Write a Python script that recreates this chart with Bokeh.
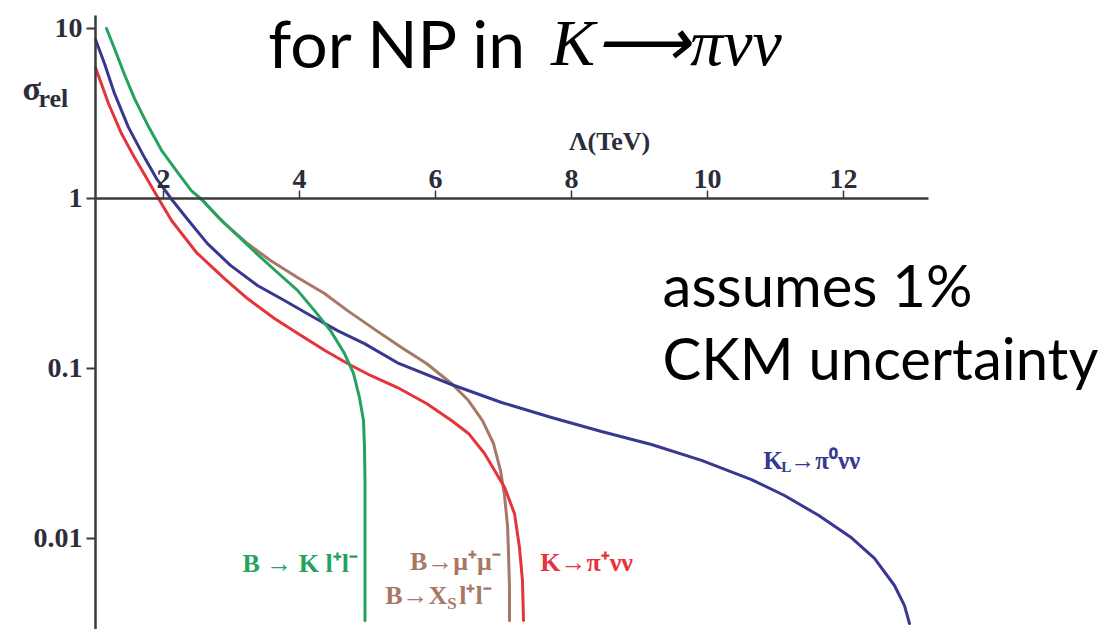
from bokeh.plotting import figure
from bokeh.models import Range1d, LinearAxis, LogAxis, FixedTicker, Label
from bokeh.embed import file_html
from bokeh.resources import INLINE

# ---------------- data ----------------
# Lambda (TeV) vs sigma_rel
red_x = [1.0, 1.191, 1.382, 1.574, 1.926, 2.118, 2.485, 2.897, 3.235, 3.632, 3.971, 4.368,
         4.706, 5.044, 5.441, 5.868, 6.235, 6.485, 6.721, 7.015, 7.162, 7.235, 7.279, 7.294]
red_y = [5.90, 3.62, 2.41, 1.74, 1.0, 0.742, 0.481, 0.338, 0.258, 0.197, 0.161, 0.128,
         0.107, 0.0910, 0.0773, 0.0622, 0.0494, 0.0415, 0.0316, 0.0200, 0.0140, 0.00885,
         0.00566, 0.00329]

blue_x = [1.0, 1.132, 1.279, 1.485, 1.721, 1.897, 2.118, 2.368, 2.647, 2.985, 3.382, 3.779,
          4.162, 4.559, 4.956, 5.441, 6.235, 6.971, 7.706, 8.441, 9.176, 9.912, 10.647,
          11.132, 11.632, 12.118, 12.456, 12.750, 12.897, 12.971]
blue_y = [8.61, 6.22, 4.15, 2.62, 1.74, 1.31, 0.99, 0.742, 0.543, 0.404, 0.308, 0.251,
          0.205, 0.167, 0.140, 0.108, 0.0805, 0.0631, 0.0515, 0.0426, 0.0357, 0.0288, 0.0222,
          0.0179, 0.0137, 0.0101, 0.00763, 0.00529, 0.00403, 0.00316]

green_x = [1.162, 1.279, 1.426, 1.574, 1.779, 1.971, 2.221, 2.412, 2.559, 2.809, 3.088, 3.382,
           3.676, 3.971, 4.221, 4.456, 4.662, 4.794, 4.882, 4.941, 4.956, 4.963, 4.963, 4.963]
green_y = [10.0, 7.63, 5.36, 3.87, 2.65, 1.92, 1.40, 1.11, 0.99, 0.773, 0.606, 0.469,
           0.367, 0.288, 0.219, 0.167, 0.1225, 0.0935, 0.0675, 0.0494, 0.0343, 0.0219,
           0.00973, 0.00329]

brown_x = [2.559, 2.897, 3.235, 3.574, 3.971, 4.368, 4.706, 5.132, 5.5, 5.868, 6.235, 6.485,
           6.691, 6.853, 6.956, 7.015, 7.059, 7.074, 7.088, 7.088]
brown_y = [0.99, 0.713, 0.543, 0.432, 0.343, 0.276, 0.219, 0.167, 0.133, 0.107, 0.0816,
           0.0648, 0.0494, 0.0362, 0.0251, 0.0179, 0.0119, 0.00816, 0.00515, 0.00329]

x_ticks = [2, 4, 6, 8, 10, 12]
x_tick_labels = ["2", "4", "6", "8", "10", "12"]
y_ticks = [0.01, 0.1, 1, 10]
y_tick_labels = ["0.01", "0.1", "1", "10"]

# ---------------- colours / fonts ----------------
RED = "#e5343c"
BLUE = "#383890"
GREEN = "#25a35e"
BROWN = "#a87867"
AXIS = "#3a3a3a"
TXT = "#2c2c3a"
SERIF = "Liberation Serif"
SANS = "Lato"

y_lo = 10 ** -2.5353
y_hi = 10 ** 1.1647

p = figure(width=1115, height=629, output_backend="svg", toolbar_location=None,
           x_range=Range1d(-0.397, 16.0), y_range=Range1d(y_lo, y_hi),
           y_axis_type="log", x_axis_location=None, y_axis_location=None,
           min_border_left=0, min_border_right=0, min_border_top=0, min_border_bottom=0)
p.outline_line_color = None
p.background_fill_color = "white"
p.border_fill_color = "white"
p.xgrid.visible = False
p.ygrid.visible = False

# y axis (log) at Lambda = 1
yaxis = LogAxis(ticker=FixedTicker(ticks=y_ticks, minor_ticks=[]), fixed_location=1.0,
                bounds=(y_lo, 11.9))
yaxis.major_label_overrides = {v: s for v, s in zip(y_ticks, y_tick_labels)}
yaxis.axis_line_width = 2.5
yaxis.axis_line_color = AXIS
yaxis.major_tick_line_color = AXIS
yaxis.major_tick_line_width = 2
yaxis.major_tick_out = 9
yaxis.major_tick_in = 0
yaxis.minor_tick_out = 0
yaxis.minor_tick_in = 0
yaxis.major_label_standoff = 4
yaxis.major_label_text_font = SERIF
yaxis.major_label_text_font_size = "28px"
yaxis.major_label_text_font_style = "bold"
yaxis.major_label_text_color = TXT
p.add_layout(yaxis, "left")

# x axis crossing at sigma = 1
xaxis = LinearAxis(ticker=FixedTicker(ticks=x_ticks, minor_ticks=[]), fixed_location=1.0,
                   bounds=(1.0, 13.25))
xaxis.major_label_overrides = {v: s for v, s in zip(x_ticks, x_tick_labels)}
xaxis.axis_line_width = 2.5
xaxis.axis_line_color = AXIS
xaxis.major_tick_line_color = AXIS
xaxis.major_tick_line_width = 1.5
xaxis.major_tick_out = 8
xaxis.major_tick_in = 0
xaxis.minor_tick_out = 0
xaxis.minor_tick_in = 0
xaxis.major_label_standoff = 2
xaxis.major_label_text_font = SERIF
xaxis.major_label_text_font_size = "28px"
xaxis.major_label_text_font_style = "bold"
xaxis.major_label_text_color = TXT
p.add_layout(xaxis, "above")

# curves
for xs, ys, col in ((brown_x, brown_y, BROWN), (red_x, red_y, RED),
                    (blue_x, blue_y, BLUE), (green_x, green_y, GREEN)):
    p.line(xs, ys, line_width=3, line_color=col, line_join="round", line_cap="round")


def lab(x, y, text, font=SERIF, size="26px", color=TXT, align="left", baseline="middle",
        style="normal", xo=0, yo=0):
    p.add_layout(Label(x=x, y=y, text=text, text_font=font, text_font_size=size,
                       text_color=color, text_align=align, text_baseline=baseline,
                       text_font_style=style, x_offset=xo, y_offset=yo))


# axis titles
lab(-0.074, 4.44, "σ", size="34px", style="bold")
lab(0.162, 3.87, "rel", size="26px", style="bold")
lab(8.56, 2.165, "Λ(TeV)", size="26px", align="center", style="bold")

# curve labels
lab(3.16, 0.00713, "B → K l⁺l⁻", color=GREEN, size="26px", style="bold")
lab(6.96, 0.00732, "B→μ⁺μ⁻", color=BROWN, size="26px", align="right", style="bold")
lab(5.26, 0.00462, "B→X", color=BROWN, size="26px", style="bold")
lab(5.26, 0.00462, "S", color=BROWN, size="17px", style="bold", xo=62, yo=-8)
lab(5.26, 0.00462, "l⁺l⁻", color=BROWN, size="26px", style="bold", xo=74)
lab(7.54, 0.00722, "K→π⁺νν", color=RED, size="26px", style="bold")
lab(10.82, 0.0288, "K", color=BLUE, size="25px", style="bold")
lab(10.82, 0.0288, "L", color=BLUE, size="15px", style="bold", xo=18, yo=-7)
lab(10.82, 0.0288, "→π⁰νν", color=BLUE, size="25px", style="bold", xo=27)

# slide texts
lab(3.54, 8.27, "for NP in", font=SANS, size="66px", color="black", baseline="alphabetic")
lab(7.70, 8.27, "K⟶πνν", font=SERIF, size="66px", color="black", baseline="alphabetic",
    style="italic")
lab(9.34, 0.312, "assumes 1%", font=SANS, size="58px", color="black", baseline="alphabetic")
lab(9.34, 0.116, "CKM uncertainty", font=SANS, size="58px", color="black",
    baseline="alphabetic")

open("out.html", "w").write(file_html(p, INLINE))
